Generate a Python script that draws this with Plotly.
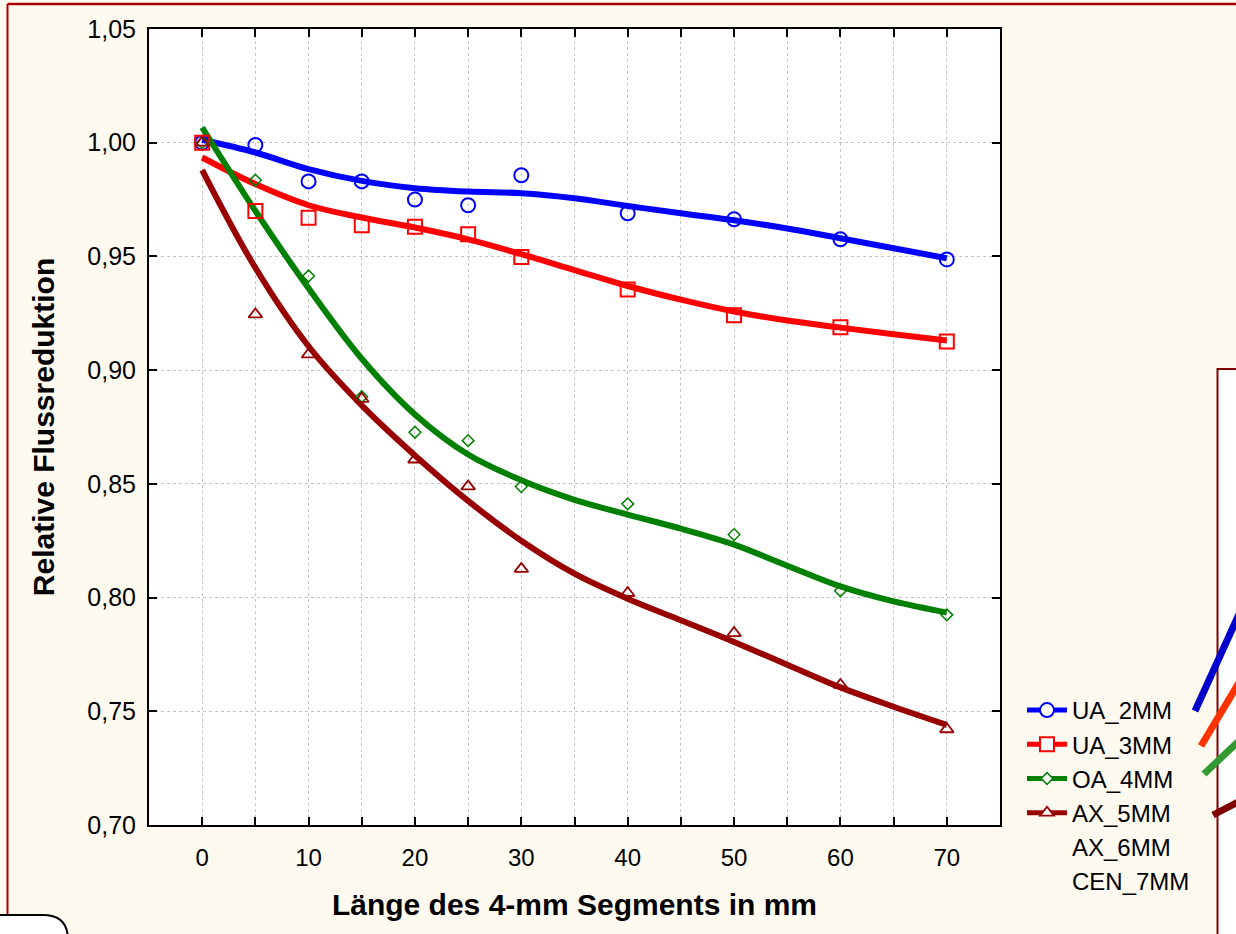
import plotly.graph_objects as go

# ---------------- data ----------------
x_meas = [0, 5, 10, 15, 20, 25, 30, 40, 50, 60, 70]
ua2 = [1.000, 0.999, 0.983, 0.983, 0.975, 0.9725, 0.9857, 0.969, 0.9663, 0.9575, 0.9487]
ua3 = [1.000, 0.970, 0.967, 0.9637, 0.9631, 0.9597, 0.9497, 0.9355, 0.9241, 0.9189, 0.9126]
oa4 = [1.000, 0.9835, 0.9414, 0.8883, 0.8727, 0.869, 0.8488, 0.8412, 0.8277, 0.803, 0.7924]
ax5 = [1.000, 0.9245, 0.9069, 0.8874, 0.8607, 0.8489, 0.8126, 0.802, 0.7844, 0.7616, 0.7421]

x_fit = [0, 5, 10, 15, 20, 25, 30, 35, 40, 45, 50, 55, 60, 65, 70]
ua2_fit = [1.0013, 0.9957, 0.9884, 0.9832, 0.9800, 0.9785, 0.9778, 0.9756, 0.9722, 0.9690, 0.9659, 0.9623, 0.9580, 0.9536, 0.9492]
ua3_fit = [0.9935, 0.9818, 0.9725, 0.9671, 0.9627, 0.9575, 0.9510, 0.9440, 0.9370, 0.9310, 0.9258, 0.9218, 0.9187, 0.9158, 0.9130]
oa4_fit = [1.0067, 0.9700, 0.9360, 0.9050, 0.8805, 0.8629, 0.8516, 0.8430, 0.8365, 0.8303, 0.8233, 0.8140, 0.8049, 0.7983, 0.7934]
ax5_fit = [0.9880, 0.9450, 0.9105, 0.8845, 0.8625, 0.8425, 0.8250, 0.8105, 0.7995, 0.7900, 0.7805, 0.7705, 0.7605, 0.7520, 0.7440]

series_names = ["UA_2MM", "UA_3MM", "OA_4MM", "AX_5MM"]
extra_legend_names = ["AX_6MM", "CEN_7MM"]
x_tick_vals = [0, 10, 20, 30, 40, 50, 60, 70]
y_tick_vals = [0.70, 0.75, 0.80, 0.85, 0.90, 0.95, 1.00, 1.05]

# ---------------- styles ----------------
colors = ["#0000FF", "#FF0000", "#008000", "#990000"]
symbols = ["circle-open", "square-open", "diamond-open", "triangle-up-open"]
msizes = [14, 14, 9, 12]
mwidths = [2, 2, 1.5, 1.8]
FONT = "Arial, Liberation Sans, sans-serif"
GRID = "#C4C4C4"

fig = go.Figure()

meas = [ua2, ua3, oa4, ax5]
fits = [ua2_fit, ua3_fit, oa4_fit, ax5_fit]

for i in range(4):
    fig.add_trace(go.Scatter(
        x=x_fit, y=fits[i], mode="lines",
        line=dict(color=colors[i], width=6, shape="spline", smoothing=1.0),
        showlegend=False, hoverinfo="skip"))

for i in range(4):
    fig.add_trace(go.Scatter(
        x=x_meas, y=meas[i], mode="markers",
        marker=dict(symbol=symbols[i], size=msizes[i], color=colors[i],
                    line=dict(color=colors[i], width=mwidths[i])),
        showlegend=False))

# legend entries
for i in range(4):
    fig.add_trace(go.Scatter(
        x=[None], y=[None], mode="lines+markers", name=series_names[i],
        line=dict(color=colors[i], width=5),
        marker=dict(symbol=symbols[i].replace("-open", ""), size=msizes[i],
                    color="white", line=dict(color=colors[i], width=mwidths[i]))))
for nm in extra_legend_names:
    fig.add_trace(go.Scatter(x=[None], y=[None], mode="lines", name=nm,
                             line=dict(color="rgba(0,0,0,0)", width=0)))

# ---------------- layout ----------------
L, R, T, B = 149, 1000, 29, 825
W, H = 1236, 934


def px(xp):
    return (xp - L) / (R - L)


def py(yp):
    return (B - yp) / (B - T)


shapes = []
# outer dark-red frame (top + left)
shapes.append(dict(type="line", xref="paper", yref="paper", x0=px(7.5), x1=px(1240),
                   y0=py(4), y1=py(4), line=dict(color="#A80000", width=2.5), layer="above"))
shapes.append(dict(type="line", xref="paper", yref="paper", x0=px(7.5), x1=px(7.5),
                   y0=py(4), y1=py(916), line=dict(color="#A80000", width=2), layer="above"))
# second window box on the right
shapes.append(dict(type="rect", xref="paper", yref="paper", x0=px(1217.5), x1=px(1245),
                   y0=py(369), y1=py(945), fillcolor="white",
                   line=dict(color="#800000", width=2), layer="above"))
# cut-off lines of the neighbouring chart
deco = [((1195, 711), (1240, 612), "#0000CC"),
        ((1201, 746), (1240, 681), "#FF3300"),
        ((1204, 774), (1240, 740), "#339933"),
        ((1213, 815), (1240, 801), "#800000")]
for (a, b, c) in deco:
    shapes.append(dict(type="line", xref="paper", yref="paper", x0=px(a[0]), y0=py(a[1]),
                       x1=px(b[0]), y1=py(b[1]), line=dict(color=c, width=7), layer="above"))
# rounded box bottom-left
x0p, x1p, x2p = px(-5), px(43), px(68)
yt, ybot = py(915), py(945)
path = (f"M {x0p},{yt} L {x1p},{yt} Q {x2p},{yt} {x2p},{py(940)} L {x2p},{ybot} "
        f"L {x0p},{ybot} Z")
shapes.append(dict(type="path", xref="paper", yref="paper", path=path, fillcolor="white",
                   line=dict(color="black", width=2), layer="above"))

fig.update_layout(
    width=W, height=H,
    margin=dict(l=L, r=W - R, t=T, b=H - B, pad=0),
    paper_bgcolor="#FFFAF0", plot_bgcolor="white",
    separators=",.",
    font=dict(family=FONT, size=24, color="black"),
    showlegend=True,
    legend=dict(x=px(1022), y=py(688), xanchor="left", yanchor="top",
                bgcolor="rgba(0,0,0,0)", font=dict(size=24, family=FONT),
                itemwidth=40, tracegroupgap=0),
    shapes=shapes,
)

fig.update_xaxes(
    range=[-5, 75], tickvals=x_tick_vals, ticktext=[str(v) for v in x_tick_vals],
    showline=True, linecolor="black", linewidth=2, mirror="allticks",
    ticks="inside", ticklen=8, tickwidth=2, tickcolor="black",
    showgrid=True, gridcolor=GRID, griddash="dot", gridwidth=1.2,
    minor=dict(dtick=5, tick0=0, ticks="inside", ticklen=8, tickwidth=2, tickcolor="black",
               showgrid=True, gridcolor=GRID, griddash="dot", gridwidth=1.2),
    zeroline=False, tickfont=dict(size=24), ticklabelstandoff=10,
    title=dict(text="<b>Länge des 4-mm Segments in mm</b>", font=dict(size=30), standoff=24),
)
fig.update_yaxes(
    range=[0.70, 1.05], tickvals=y_tick_vals, tickformat=".2f",
    showline=True, linecolor="black", linewidth=2, mirror="allticks",
    ticks="inside", ticklen=8, tickwidth=2, tickcolor="black",
    showgrid=True, gridcolor=GRID, griddash="dot", gridwidth=1.2,
    zeroline=False, tickfont=dict(size=25), ticklabelstandoff=6,
    title=dict(text="<b>Relative Flussreduktion</b>", font=dict(size=30), standoff=24),
)

fig.write_html("out.html")
